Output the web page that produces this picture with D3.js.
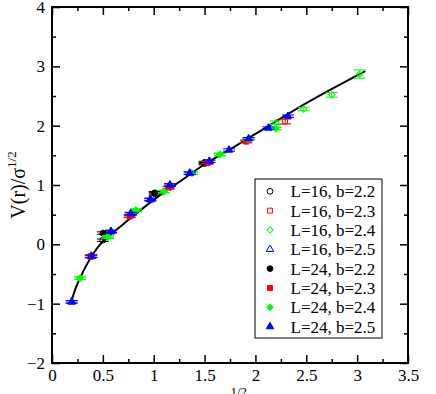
<!DOCTYPE html>
<html>
<head>
<meta charset="utf-8">
<script src="https://cdn.jsdelivr.net/npm/d3@7"></script>
<style>
body { margin: 0; background: #fff; }
text { font-family: "Liberation Serif", "Times New Roman", serif; }
</style>
</head>
<body>
<svg id="chart" width="436" height="394"></svg>
<script>
// values
var legendLabels = ["L=16, b=2.2", "L=16, b=2.3", "L=16, b=2.4", "L=16, b=2.5",
                    "L=24, b=2.2", "L=24, b=2.3", "L=24, b=2.4", "L=24, b=2.5"];

var r_b22 = [0.50, 1.01, 1.50];
var v16_b22 = [0.07, 0.85, 1.36];
var v24_b22 = [0.19, 0.87, 1.38];

var r_b23 = [0.382, 0.764, 1.146, 1.528, 1.91, 2.292];
var v16_b23 = [-0.21, 0.47, 0.95, 1.37, 1.73, 2.07];
var v24_b23 = [-0.20, 0.48, 0.96, 1.38, 1.74];

var r_b24 = [0.275, 0.55, 0.825, 1.10, 1.375, 1.65, 1.925, 2.20, 2.475, 2.75, 3.025];
var v16_b24 = [-0.57, 0.12, 0.57, 0.89, 1.20, 1.51, 1.77, 2.05, 2.28, 2.52, 2.87];
var e16_b24 = [0.02, 0.02, 0.02, 0.02, 0.02, 0.02, 0.02, 0.03, 0.03, 0.04, 0.07];
var v24_b24 = [-0.57, 0.13, 0.58, 0.89, 1.20, 1.52, 1.77, 1.95];

var r_b25 = [0.193, 0.387, 0.58, 0.774, 0.967, 1.16, 1.354, 1.547, 1.74, 1.934, 2.127, 2.32];
var v16_b25 = [-0.97, -0.20, 0.21, 0.51, 0.75, 1.00, 1.20, 1.40];
var v24_b25 = [-0.97, -0.20, 0.22, 0.52, 0.76, 1.00, 1.20, 1.40, 1.59, 1.78, 1.96, 2.16];

// fitted curve, read at points along the line
var fitX = [0.19, 0.22, 0.275, 0.33, 0.40, 0.50, 0.60, 0.70, 0.80, 1.00, 1.25, 1.50, 1.75, 2.00, 2.50, 3.08];
var fitY = [-0.97, -0.80, -0.57, -0.38, -0.17, 0.05, 0.20, 0.34, 0.48, 0.75, 1.05, 1.35, 1.60, 1.86, 2.38, 2.92];

var xTicks = [0, 0.5, 1, 1.5, 2, 2.5, 3, 3.5];
var yTicks = [-2, -1, 0, 1, 2, 3, 4];

window.onload = function() {
	var margin = {top: 7, right: 28, bottom: 31, left: 52},
	width = 436 - margin.left - margin.right,
	height = 394 - margin.top - margin.bottom;

	var svg = d3.select("#chart")
		.append("g")
			.attr("transform", "translate(" + margin.left + "," + margin.top + ")");

	var x = d3.scaleLinear().domain([0, 3.5]).range([0, width]);
	var y = d3.scaleLinear().domain([-2, 4]).range([height, 0]);

	var colors = ["black", "#ff0000", "#00ff00", "#0000ff"];
	// diamond = square turned by 45 degrees
	var shapes = [d3.symbolCircle, d3.symbolSquare, d3.symbolSquare, d3.symbolTriangle];
	var turns = [0, 0, 45, 0];
	var sizes = [26, 24, 20, 24];

	function err(v, e) { return v.map(function(d, i) { return e ? e[i] : 0.02; }); }

	// one entry per legend row
	var series = [
		{r: r_b22, v: v16_b22, e: err(v16_b22), k: 0, filled: false},
		{r: r_b23, v: v16_b23, e: [0.02, 0.02, 0.02, 0.02, 0.02, 0.04], k: 1, filled: false},
		{r: r_b24, v: v16_b24, e: e16_b24, k: 2, filled: false},
		{r: r_b25, v: v16_b25, e: err(v16_b25), k: 3, filled: false},
		{r: r_b22, v: v24_b22, e: err(v24_b22), k: 0, filled: true},
		{r: r_b23, v: v24_b23, e: err(v24_b23), k: 1, filled: true},
		{r: r_b24, v: v24_b24, e: err(v24_b24), k: 2, filled: true},
		{r: r_b25, v: v24_b25, e: err(v24_b25), k: 3, filled: true}
	];

	// ticks, all pointing inwards
	var minorX = d3.range(0.25, 3.5, 0.5), minorY = d3.range(-1.5, 4, 1);
	function styleAxis(g) {
		g.select(".domain").remove();
		g.selectAll("line").attr("stroke-width", 1.5);
		g.selectAll("text").style("font-size", "17px").attr("fill", "black");
	}
	svg.append("g").attr("transform", "translate(0," + height + ")")
		.call(d3.axisBottom(x).tickValues(xTicks).tickSize(-8).tickPadding(6).tickFormat(d3.format("")))
		.call(styleAxis);
	svg.append("g").attr("transform", "translate(0," + height + ")")
		.call(d3.axisBottom(x).tickValues(minorX).tickSize(-4).tickFormat(""))
		.call(styleAxis);
	svg.append("g")
		.call(d3.axisTop(x).tickValues(xTicks).tickSize(-8).tickFormat(""))
		.call(styleAxis);
	svg.append("g")
		.call(d3.axisTop(x).tickValues(minorX).tickSize(-4).tickFormat(""))
		.call(styleAxis);
	svg.append("g")
		.call(d3.axisLeft(y).tickValues(yTicks).tickSize(-8).tickPadding(7).tickFormat(d3.format("")))
		.call(styleAxis);
	svg.append("g")
		.call(d3.axisLeft(y).tickValues(minorY).tickSize(-4).tickFormat(""))
		.call(styleAxis);
	svg.append("g").attr("transform", "translate(" + width + ",0)")
		.call(d3.axisRight(y).tickValues(yTicks).tickSize(-8).tickFormat(""))
		.call(styleAxis);
	svg.append("g").attr("transform", "translate(" + width + ",0)")
		.call(d3.axisRight(y).tickValues(minorY).tickSize(-4).tickFormat(""))
		.call(styleAxis);

	// frame
	svg.append("rect")
		.attr("width", width)
		.attr("height", height)
		.attr("fill", "none")
		.attr("stroke", "black")
		.attr("stroke-width", 2);

	// fit line
	var line = d3.line()
		.x(function(d, i) { return x(fitX[i]); })
		.y(function(d, i) { return y(fitY[i]); })
		.curve(d3.curveMonotoneX);
	svg.append("path")
		.attr("d", line(fitX))
		.attr("fill", "none")
		.attr("stroke", "black")
		.attr("stroke-width", 2);

	// points with error bars
	series.forEach(function(s) {
		var pts = s.v.map(function(v, i) { return {r: s.r[i], v: v, e: s.e[i]}; });
		var g = svg.append("g")
			.attr("stroke", colors[s.k])
			.attr("stroke-width", 1);
		var bar = g.selectAll(".err").data(pts).enter().append("g");
		bar.append("line")
			.attr("x1", function(d) { return x(d.r); })
			.attr("x2", function(d) { return x(d.r); })
			.attr("y1", function(d) { return y(d.v - d.e); })
			.attr("y2", function(d) { return y(d.v + d.e); });
		bar.append("line")
			.attr("x1", function(d) { return x(d.r) - 6; })
			.attr("x2", function(d) { return x(d.r) + 6; })
			.attr("y1", function(d) { return y(d.v - d.e); })
			.attr("y2", function(d) { return y(d.v - d.e); });
		bar.append("line")
			.attr("x1", function(d) { return x(d.r) - 6; })
			.attr("x2", function(d) { return x(d.r) + 6; })
			.attr("y1", function(d) { return y(d.v + d.e); })
			.attr("y2", function(d) { return y(d.v + d.e); });
		g.selectAll(".pt").data(pts).enter().append("path")
			.attr("transform", function(d) { return "translate(" + x(d.r) + "," + y(d.v) + ") rotate(" + turns[s.k] + ")"; })
			.attr("d", d3.symbol().type(shapes[s.k]).size(sizes[s.k]))
			.attr("fill", s.filled ? colors[s.k] : "none");
	});

	// legend
	var legendHolder = svg.append("g")
		.attr("transform", "translate(" + (255 - margin.left) + "," + (179 - margin.top) + ")");
	legendHolder.append("rect")
		.attr("width", 127)
		.attr("height", 159)
		.attr("fill", "white")
		.attr("stroke", "black")
		.attr("stroke-width", 1);
	var legend = legendHolder.selectAll(".legend")
		.data(series)
		.enter().append("g")
			.attr("class", "legend")
			.attr("transform", function(d, i) { return "translate(0," + (12.3 + i * 19.33) + ")"; });
	legend.append("path")
		.attr("transform", function(d) { return "translate(15,0) rotate(" + turns[d.k] + ")"; })
		.attr("d", function(d) { return d3.symbol().type(shapes[d.k]).size(sizes[d.k])(); })
		.attr("stroke", function(d) { return colors[d.k]; })
		.attr("fill", function(d) { return d.filled ? colors[d.k] : "none"; });
	legend.append("text")
		.attr("x", 35.5)
		.attr("y", 6)
		.style("font-size", "17px")
		.text(function(d, i) { return legendLabels[i]; });

	// axis titles
	var yl = svg.append("text")
		.attr("transform", "translate(" + (24.5 - margin.left) + "," + (185 - margin.top) + ") rotate(-90)")
		.attr("text-anchor", "middle")
		.style("font-size", "20px");
	yl.append("tspan").text("V(r)/σ");
	yl.append("tspan").attr("dy", -9).style("font-size", "13px").text("1/2");

	var xl = svg.append("text")
		.attr("x", width / 2)
		.attr("y", 405 - margin.top)
		.attr("text-anchor", "middle")
		.style("font-size", "20px");
	xl.append("tspan").text("rσ");
	xl.append("tspan").attr("dy", -9).style("font-size", "13px").text("1/2");
}
</script>
</body>
</html>
